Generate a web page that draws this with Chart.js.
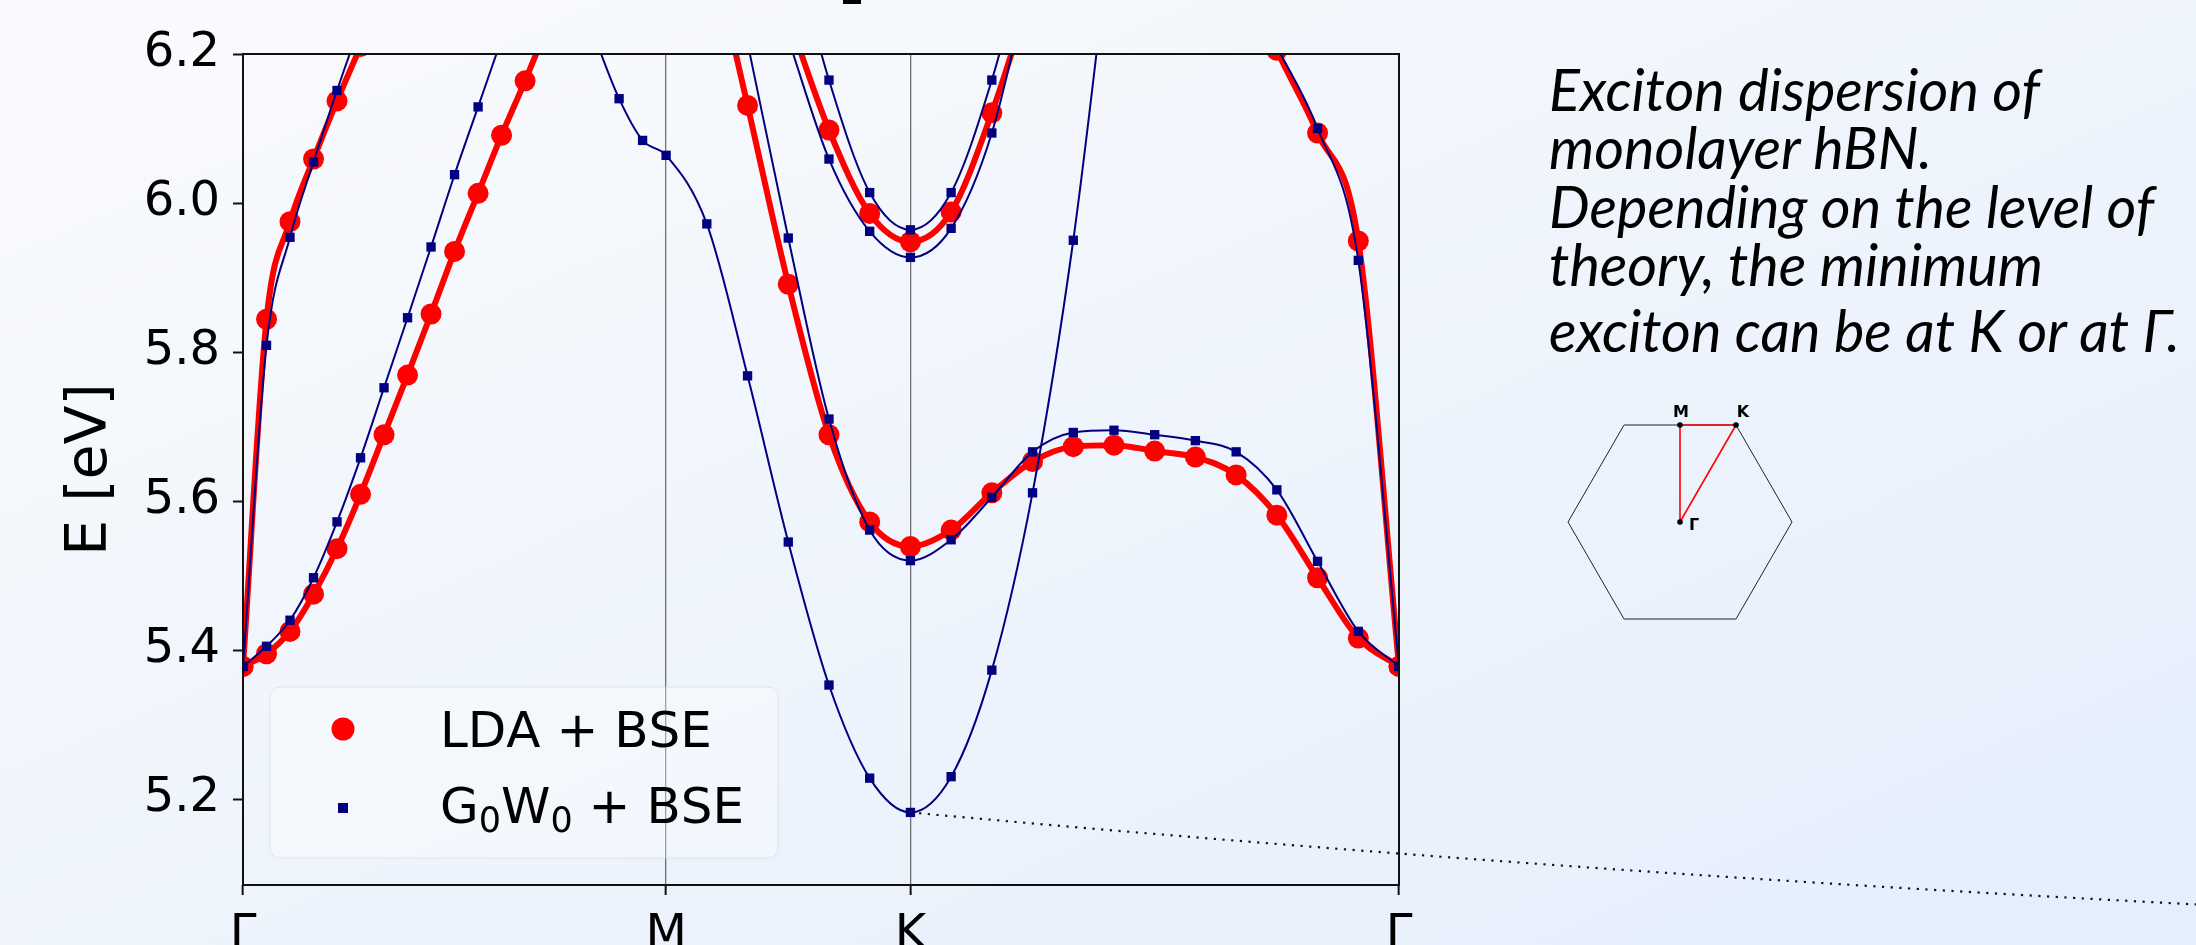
<!DOCTYPE html>
<html>
<head>
<meta charset="utf-8">
<script src="https://cdn.jsdelivr.net/npm/chart.js@4.4.1/dist/chart.umd.min.js"></script>
<style>
  html, body { margin: 0; padding: 0; width: 2196px; height: 945px; overflow: hidden; }
  body { position: relative; background: linear-gradient(to bottom right, #fafbfd, #e4eefc); }
  #chart { position: absolute; left: 0; top: 0; }
  .stub { position: absolute; left: 843px; top: 0; width: 18px; height: 4px; background: #000; }
  .note { position: absolute; left: 1549px; top: 60px; font-family: Lato, sans-serif; font-style: italic;
          font-size: 57.5px; line-height: 58.3px; color: #000; white-space: nowrap; }
  .note .last { margin-top: 8px; }
  #bz { position: absolute; left: 1540px; top: 380px; }
  #bz text { font-family: 'DejaVu Sans'; font-weight: bold; font-size: 16px; fill: #000; }
</style>
</head>
<body>
<div class="stub"></div>
<canvas id="chart" width="2196" height="945"></canvas>
<div class="note">
  <div>Exciton dispersion of</div>
  <div>monolayer hBN.</div>
  <div>Depending on the level of</div>
  <div>theory, the minimum</div>
  <div class="last">exciton can be at K or at Γ.</div>
</div>
<svg id="bz" width="300" height="260" viewBox="1540 380 300 260">
  <polygon points="1568,522 1624,425 1736,425 1792,522 1736,619 1624,619" fill="none" stroke="#222" stroke-width="1"/>
  <polyline points="1736,425 1680,425 1680,522 1736,425" fill="none" stroke="#ff0000" stroke-width="1.6"/>
  <circle cx="1680" cy="425" r="2.8" fill="#000"/>
  <circle cx="1736" cy="425" r="2.8" fill="#000"/>
  <circle cx="1680" cy="522" r="2.8" fill="#000"/>
  <text x="1681" y="417" text-anchor="middle">M</text>
  <text x="1743" y="417" text-anchor="middle">K</text>
  <text x="1689" y="530">Γ</text>
</svg>
<script>
document.addEventListener('DOMContentLoaded', function () {
    const _ = null; // point above the plotted window, not read

    // path distance of each q-point along Γ-M-K-Γ
    const kPath = [0, 0.0556, 0.1111, 0.1667, 0.2222, 0.2778, 0.3333, 0.3889, 0.4444, 0.5,
        0.5556, 0.6111, 0.6667, 0.7222, 0.7778, 0.8333, 0.8889, 0.9444, 1.0,
        1.0962, 1.1925, 1.2887, 1.3849, 1.4811, 1.5774,
        1.6736, 1.7698, 1.8660, 1.9623, 2.0585, 2.1547, 2.2509, 2.3472, 2.4434, 2.5396, 2.6359, 2.7321];
    const tickPos = [0, 1, 1.5774, 2.7321];
    const tickLabels = ['Γ', 'M', 'K', 'Γ'];
    const yTicks = [5.2, 5.4, 5.6, 5.8, 6.0, 6.2];
    const methodLabels = ['LDA + BSE', 'G₀W₀ + BSE'];

    // LDA + BSE exciton bands (eV)
    const ldaBand1 = [5.378, 5.395, 5.425, 5.475, 5.536, 5.609, 5.689, 5.769, 5.851, 5.935,
        6.013, 6.091, 6.164, 6.24, 6.31, _, _, _, _,
        6.37, 6.131, 5.891, 5.689, 5.572, 5.539,
        5.561, 5.611, 5.653, 5.673, 5.675, 5.667, 5.659, 5.635, 5.581, 5.497, 5.416, 5.378];
    const ldaBand2 = [5.378, 5.844, 5.975, 6.059, 6.137, 6.21, 6.28, _, _, _,
        _, _, _, _, _, _, _, _, _,
        _, _, _, _, _, _,
        _, _, _, _, _, _, _, 6.33, 6.205, 6.094, 5.949, 5.378];
    const ldaBand3 = [_, _, _, _, _, _, _, _, _, _,
        _, _, _, _, _, _, _, _, _,
        _, _, 6.25, 6.098, 5.986, 5.948,
        5.988, 6.121, 6.29, _, _, _, _, _, _, _, _, _];

    // G0W0 + BSE exciton bands (eV)
    const g0w0Band1 = [5.378, 5.405, 5.44, 5.497, 5.572, 5.658, 5.752, 5.846, 5.941, 6.038,
        6.129, 6.22, 6.31, _, _, _, _, _, _,
        _, _, _, _, _, _,
        _, _, _, _, _, _, _, _, _, _, _, _];
    const g0w0Band2 = [5.378, 5.809, 5.954, 6.055, 6.151, 6.24, 6.32, _, _, _,
        _, _, _, _, _, _, _, _, _,
        _, _, _, _, _, _,
        _, _, _, _, _, _, _, 6.32, 6.21, 6.10, 5.923, 5.378];
    const g0w0Band3 = [_, _, _, _, _, _, _, _, _, _,
        _, _, _, _, 6.31, 6.22, 6.14, 6.084, 6.064,
        5.972, 5.768, 5.545, 5.353, 5.228, 5.182,
        5.23, 5.373, 5.611, 5.95, 6.40, _, _, _, _, _, _, _];
    const g0w0Band4 = [_, _, _, _, _, _, _, _, _, _,
        _, _, _, _, _, _, _, _, _,
        _, 6.215, 5.953, 5.71, 5.561, 5.52,
        5.548, 5.605, 5.666, 5.692, 5.695, 5.689, 5.681, 5.666, 5.615, 5.519, 5.425, 5.378];
    const g0w0Band5 = [_, _, _, _, _, _, _, _, _, _,
        _, _, _, _, _, _, _, _, _,
        _, _, 6.37, 6.165, 6.014, 5.964,
        6.014, 6.165, 6.37, _, _, _, _, _, _, _, _, _];
    const g0w0Band6 = [_, _, _, _, _, _, _, _, _, _,
        _, _, _, _, _, _, _, _, _,
        _, _, 6.22, 6.059, 5.962, 5.927,
        5.966, 6.094, 6.32, _, _, _, _, _, _, _, _, _];

    const ldaColor = '#ff0000';
    const g0w0Color = '#000080';

    function toPoints(values) {
        return values.map((e, i) => ({ x: kPath[i], y: e }));
    }

    function ldaSet(values) {
        return {
            label: methodLabels[0],
            data: toPoints(values),
            borderColor: ldaColor,
            backgroundColor: ldaColor,
            borderWidth: 6,
            pointStyle: 'circle',
            pointRadius: 10.5,
            pointBorderWidth: 0,
            cubicInterpolationMode: 'monotone',
            clip: 0,
            order: 2
        };
    }

    function g0w0Set(values) {
        return {
            label: methodLabels[1],
            data: toPoints(values),
            borderColor: g0w0Color,
            backgroundColor: g0w0Color,
            borderWidth: 2,
            pointStyle: 'rect',
            pointRadius: 6.6,
            pointBorderWidth: 0,
            cubicInterpolationMode: 'monotone',
            clip: 0,
            order: 1
        };
    }

    // closed black frame round the plot, drawn over the data
    const framePlugin = {
        id: 'frame',
        afterDatasetsDraw(chart) {
            const { ctx, chartArea: a } = chart;
            ctx.save();
            ctx.strokeStyle = '#111';
            ctx.lineWidth = 2;
            ctx.strokeRect(a.left, a.top, a.right - a.left, a.bottom - a.top);
            ctx.restore();
        }
    };

    // legend box in the lower left corner of the plot
    const legendPlugin = {
        id: 'insetLegend',
        afterDatasetsDraw(chart) {
            const { ctx, chartArea: a } = chart;
            const bx = a.left + 27, by = a.bottom - 198;
            ctx.save();
            ctx.beginPath();
            ctx.roundRect(bx, by, 508, 171, 10);
            ctx.fillStyle = 'rgba(255,255,255,0.35)';
            ctx.fill();
            ctx.strokeStyle = 'rgba(205,212,225,0.55)';
            ctx.lineWidth = 1;
            ctx.stroke();

            ctx.fillStyle = ldaColor;
            ctx.beginPath();
            ctx.arc(bx + 73, by + 42, 11.5, 0, Math.PI * 2);
            ctx.fill();
            ctx.fillStyle = g0w0Color;
            ctx.fillRect(bx + 68, by + 116, 10, 10);

            ctx.fillStyle = '#000';
            ctx.textBaseline = 'alphabetic';
            [[methodLabels[0], by + 60], [methodLabels[1], by + 136]].forEach(([text, base]) => {
                let tx = bx + 170;
                for (const ch of text) {
                    const sub = ch === '₀';
                    ctx.font = (sub ? '35px' : '50px') + ' "DejaVu Sans"';
                    const glyph = sub ? '0' : ch;
                    ctx.fillText(glyph, tx, base + (sub ? 9 : 0));
                    tx += ctx.measureText(glyph).width;
                }
            });
            ctx.restore();
        }
    };

    // dotted pointer from the G0W0 minimum at K out to the page edge
    const pointerPlugin = {
        id: 'pointer',
        afterDraw(chart) {
            const { ctx, scales } = chart;
            const x0 = scales.x.getPixelForValue(kPath[24]);
            const y0 = scales.y.getPixelForValue(g0w0Band3[24]);
            const x1 = chart.width;
            ctx.save();
            ctx.setLineDash([2.2, 6.5]);
            ctx.lineWidth = 2.2;
            ctx.strokeStyle = '#111';
            ctx.beginPath();
            ctx.moveTo(x0, y0);
            ctx.quadraticCurveTo((x0 + x1) / 2, y0 + 59, x1, y0 + 92);
            ctx.stroke();
            ctx.restore();
        }
    };

    Chart.defaults.font.family = '"DejaVu Sans"';
    Chart.defaults.color = '#000';

    const ctx = document.getElementById('chart').getContext('2d');
    new Chart(ctx, {
        type: 'line',
        data: {
            datasets: [
                ldaSet(ldaBand1), ldaSet(ldaBand2), ldaSet(ldaBand3),
                g0w0Set(g0w0Band1), g0w0Set(g0w0Band2), g0w0Set(g0w0Band3),
                g0w0Set(g0w0Band4), g0w0Set(g0w0Band5), g0w0Set(g0w0Band6)
            ]
        },
        options: {
            responsive: false,
            animation: false,
            devicePixelRatio: 1,
            layout: { padding: { left: 0, right: 797, top: 54, bottom: 0 } },
            plugins: {
                legend: { display: false },
                tooltip: { enabled: false }
            },
            scales: {
                x: {
                    type: 'linear',
                    min: 0,
                    max: 2.7321,
                    afterBuildTicks: scale => { scale.ticks = tickPos.map(v => ({ value: v })); },
                    afterFit: scale => { scale.height = 60; },
                    ticks: {
                        autoSkip: false,
                        maxRotation: 0,
                        padding: 12,
                        font: { size: 48 },
                        callback: (value, index) => tickLabels[index]
                    },
                    grid: {
                        color: '#707070',
                        lineWidth: 1.3,
                        tickColor: '#111',
                        tickWidth: 2,
                        tickLength: 10
                    },
                    border: { display: false }
                },
                y: {
                    min: 5.0846,
                    max: 6.2,
                    afterBuildTicks: scale => { scale.ticks = yTicks.map(v => ({ value: v })); },
                    afterFit: scale => { scale.width = 243; },
                    ticks: {
                        padding: 13,
                        font: { size: 48 },
                        callback: value => value.toFixed(1)
                    },
                    grid: {
                        drawOnChartArea: false,
                        tickColor: '#111',
                        tickWidth: 2,
                        tickLength: 10
                    },
                    border: { display: false },
                    title: {
                        display: true,
                        text: 'E [eV]',
                        font: { size: 57 },
                        padding: { top: 57, bottom: 0 }
                    }
                }
            }
        },
        plugins: [framePlugin, legendPlugin, pointerPlugin]
    });
});
</script>
</body>
</html>
